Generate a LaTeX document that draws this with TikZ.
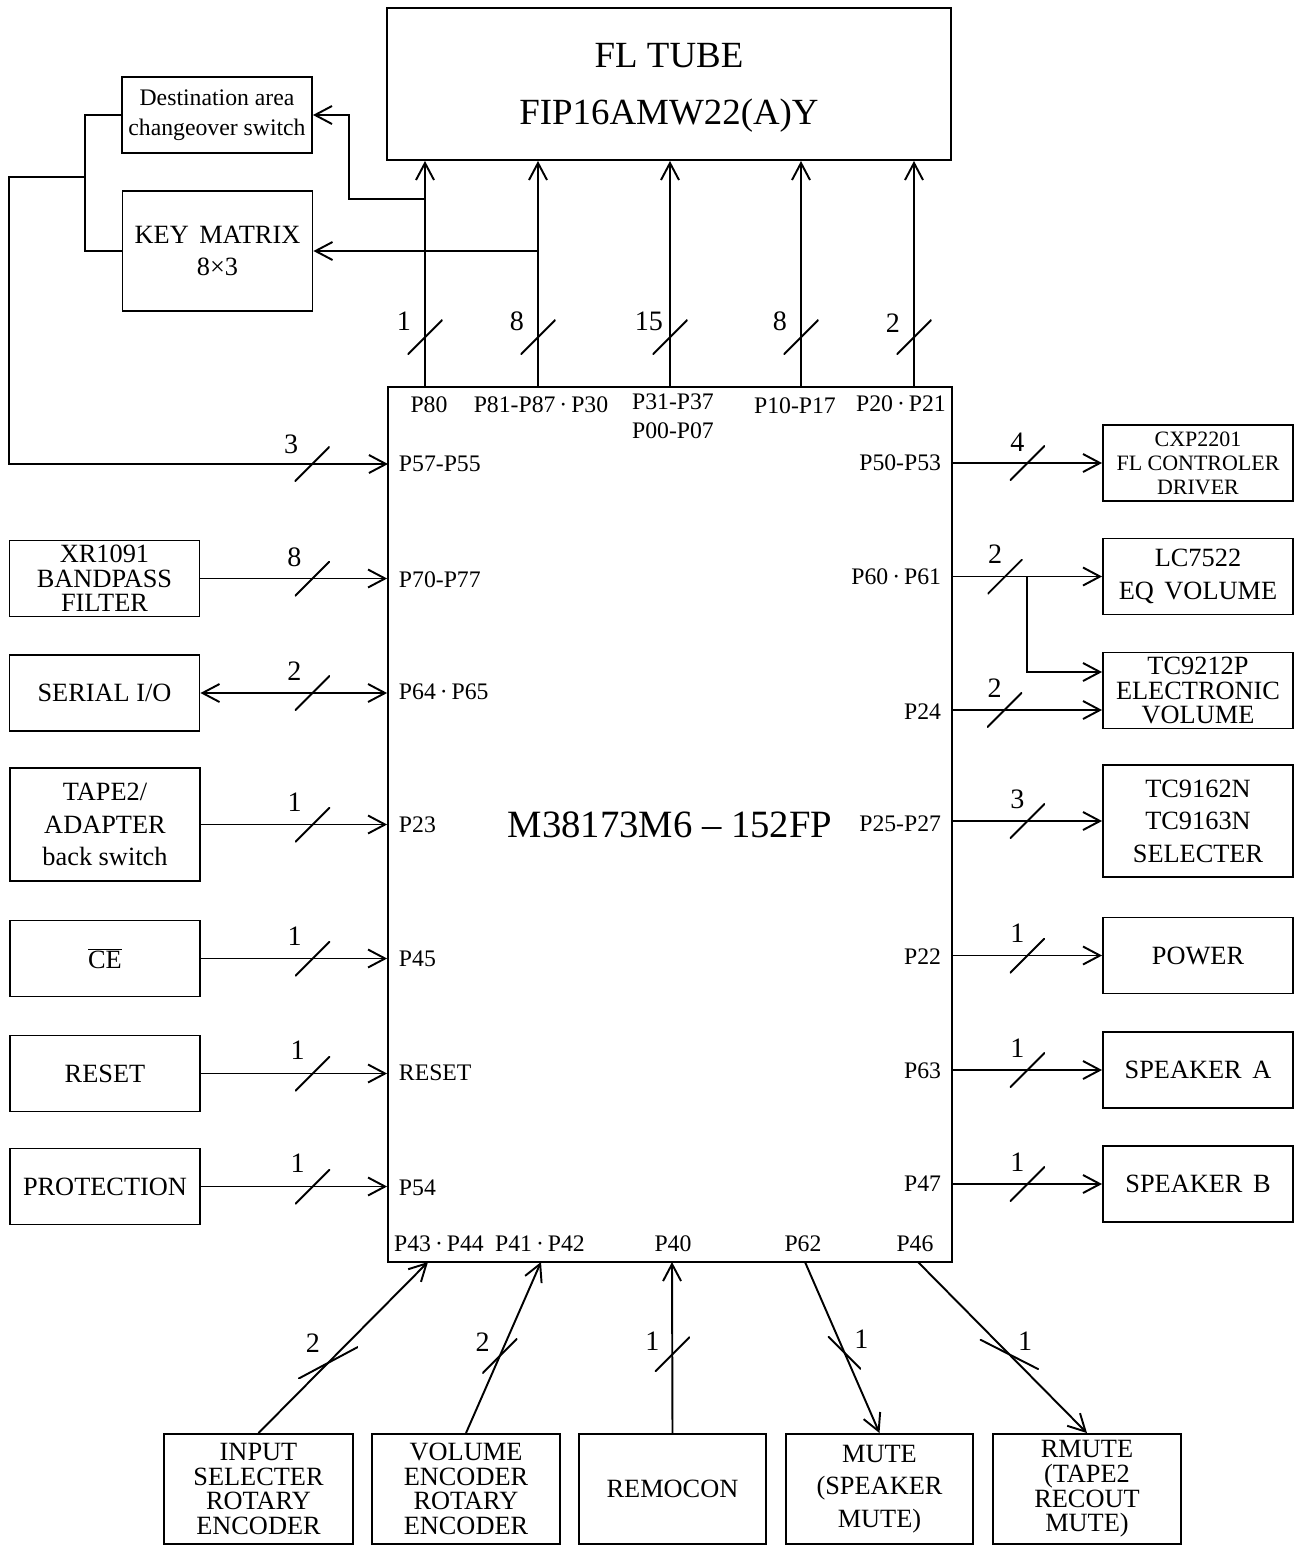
\documentclass[tikz,border=0pt]{standalone}
\usepackage{fontspec}
\setmainfont{Liberation Serif}
\usetikzlibrary{arrows.meta}

\begin{document}
\begin{tikzpicture}[
  x=0.02cm, y=-0.02cm,
  line width=1.1pt,
  box/.style={draw, align=center, inner sep=0pt, minimum width=3.8cm, minimum height=1.52cm, font=\fontsize{15}{18.5}\selectfont},
  tight/.style={box, font=\fontsize{15}{14}\selectfont},
  pin/.style={inner sep=0pt, font=\fontsize{13.5}{16.5}\selectfont},
  num/.style={inner sep=0pt, font=\fontsize{16}{16}\selectfont},
  busmark/.style={inner sep=0pt, minimum width=0.7cm, minimum height=0.7cm, path picture={\draw[-, line width=1.1pt] (path picture bounding box.south west) -- (path picture bounding box.north east);}},
  backmark/.style={inner sep=0pt, minimum width=0.7cm, minimum height=0.7cm, path picture={\draw[-, line width=1.1pt] (path picture bounding box.north west) -- (path picture bounding box.south east);}},
  arrow/.style={-{Straight Barb[length=3.4mm, width=3.6mm]}},
  twoway/.style={{Straight Barb[length=3.4mm, width=3.6mm]}-{Straight Barb[length=3.4mm, width=3.6mm]}}
]
\useasboundingbox (0,0) rectangle (1299,1546);

% controller and display
\node[draw, minimum width=11.28cm, minimum height=17.5cm, font=\fontsize{22}{24}\selectfont] (chip) at (670,824.5) {M38173M6 – 152FP};
\node[draw, align=center, minimum width=11.28cm, minimum height=3.04cm, text depth=-0.3cm, font=\fontsize{21}{32}\selectfont] (tube) at (669,84) {FL TUBE\\FIP16AMW22(A)Y};
\node[box, font=\fontsize{13.5}{17}\selectfont] (dest) at (217,115) {Destination area\\changeover switch};
\node[box, minimum height=2.4cm] (keym) at (217.5,251) {KEY\hspace{0.4em}MATRIX\\8×3};

% pin names
\node[pin] (l80) at (429,405) {P80};
\node[pin] (l81) at (541,405) {P81-P87\,·\,P30};
\node[pin, align=center] (l31) at (673,416) {P31-P37\\P00-P07};
\node[pin] (l10) at (795,406) {P10-P17};
\node[pin] (l20) at (901,404) {P20\,·\,P21};
\node[pin, anchor=west] (l57) at (398,464) {P57-P55};
\node[pin, anchor=west] (l70) at (398,580) {P70-P77};
\node[pin, anchor=west] (l64) at (398,692) {P64\,·\,P65};
\node[pin, anchor=west] (l23) at (398,825) {P23};
\node[pin, anchor=west] (l45) at (398,959) {P45};
\node[pin, anchor=west] (lrs) at (398,1073) {RESET};
\node[pin, anchor=west] (l54) at (398,1188) {P54};
\node[pin, anchor=east] (l50) at (942,463) {P50-P53};
\node[pin, anchor=east] (l60) at (942,577) {P60\,·\,P61};
\node[pin, anchor=east] (l24) at (942,712) {P24};
\node[pin, anchor=east] (l25) at (942,824) {P25-P27};
\node[pin, anchor=east] (l22) at (942,957) {P22};
\node[pin, anchor=east] (l63) at (942,1071) {P63};
\node[pin, anchor=east] (l47) at (942,1184) {P47};
\node[pin] (l43) at (439,1244) {P43\,·\,P44};
\node[pin] (l41) at (540,1244) {P41\,·\,P42};
\node[pin] (l40) at (673,1244) {P40};
\node[pin] (l62) at (803,1244) {P62};
\node[pin] (l46) at (915,1244) {P46};

% pin points
\coordinate (c80) at (425,387);
\coordinate (c81) at (538,387);
\coordinate (c31) at (670,387);
\coordinate (c10) at (801,387);
\coordinate (c20) at (914,387);
\coordinate (c57) at (388,464);
\coordinate (c24) at (952,710);
\coordinate (c43) at (428,1262);
\coordinate (c41) at (541,1262);
\coordinate (c40) at (672,1262);
\coordinate (c62) at (805,1262);
\coordinate (c46) at (918,1262);
\coordinate (tap1) at (425,199);
\coordinate (bend1) at (349,199);
\coordinate (tap2) at (538,251);
\coordinate (tap3) at (1027,576.5);
\coordinate (jn) at (85,177);
\coordinate (lft) at (9,177);

% left side
\node[tight] (xr) at (104.5,578.5) {XR1091\\BANDPASS\\FILTER};
\node[box] (ser) at (104.5,693) {SERIAL I/O};
\node[box, minimum height=2.26cm] (tape) at (105,824.5) {TAPE2/\\ADAPTER\\back switch};
\node[box] (ce) at (105,958.5) {$\overline{\mbox{CE}}$};
\node[box] (rst) at (105,1073.5) {RESET};
\node[box] (prot) at (105,1186.5) {PROTECTION};

% right side
\node[box, font=\fontsize{12.5}{13.6}\selectfont] (cxp) at (1198,463) {CXP2201\\FL CONTROLER\\DRIVER};
\node[box, font=\fontsize{15}{19}\selectfont] (lc) at (1198,576.5) {LC7522\\EQ\hspace{0.4em}VOLUME};
\node[box, font=\fontsize{15}{13.8}\selectfont] (tcv) at (1198,690.5) {TC9212P\\ELECTRONIC\\VOLUME};
\node[box, minimum height=2.24cm] (tcs) at (1198,821) {TC9162N\\TC9163N\\SELECTER};
\node[box] (pwr) at (1198,955.5) {POWER};
\node[box] (spka) at (1198,1070) {SPEAKER\hspace{0.4em}A};
\node[box] (spkb) at (1198,1184) {SPEAKER\hspace{0.4em}B};

% bottom row
\node[tight, minimum width=3.78cm, minimum height=2.2cm] (inp) at (258.5,1489) {INPUT\\SELECTER\\ROTARY\\ENCODER};
\node[tight, minimum width=3.76cm, minimum height=2.2cm] (vol) at (466,1489) {VOLUME\\ENCODER\\ROTARY\\ENCODER};
\node[box, minimum width=3.74cm, minimum height=2.2cm] (rem) at (672.5,1489) {REMOCON};
\node[box, minimum width=3.74cm, minimum height=2.2cm] (mute) at (879.5,1489) {MUTE\\(SPEAKER\\MUTE)};
\node[tight, minimum width=3.76cm, minimum height=2.2cm] (rmute) at (1087,1489) {RMUTE\\(TAPE2\\RECOUT\\MUTE)};

% to the tube
\draw[arrow] (c80) -- node[busmark, pos=.22] {} node[num, pos=.22, anchor=east, xshift=-0.26cm, yshift=0.32cm] {1} (c80 |- tube.south);
\draw[arrow] (c81) -- node[busmark, pos=.22] {} node[num, pos=.22, anchor=east, xshift=-0.26cm, yshift=0.32cm] {8} (c81 |- tube.south);
\draw[arrow] (c31) -- node[busmark, pos=.22] {} node[num, pos=.22, anchor=east, xshift=-0.12cm, yshift=0.32cm] {15} (c31 |- tube.south);
\draw[arrow] (c10) -- node[busmark, pos=.22] {} node[num, pos=.22, anchor=east, xshift=-0.26cm, yshift=0.32cm] {8} (c10 |- tube.south);
\draw[arrow] (c20) -- node[busmark, pos=.22] {} node[num, pos=.22, anchor=east, xshift=-0.26cm, yshift=0.28cm] {2} (c20 |- tube.south);
\draw[arrow] (tap1) -- (bend1) |- (dest.east);
\draw[arrow] (tap2) -- (keym.east);
\draw (dest.west) -| (jn) |- (keym.west);
\draw[arrow] (jn) -- (lft) -- (lft |- c57) -- node[busmark, pos=.8] {} node[num, pos=.8, xshift=-0.42cm, yshift=0.4cm] {3} (c57);

% inputs on the left
\draw[arrow] (xr.east) -- node[busmark, pos=.6] {} node[num, pos=.6, xshift=-0.36cm, yshift=0.42cm] {8} (xr.east -| chip.west);
\draw[twoway] (ser.east) -- node[busmark, pos=.6] {} node[num, pos=.6, xshift=-0.36cm, yshift=0.44cm] {2} (ser.east -| chip.west);
\draw[arrow] (tape.east) -- node[busmark, pos=.6] {} node[num, pos=.6, xshift=-0.36cm, yshift=0.44cm] {1} (tape.east -| chip.west);
\draw[arrow] (ce.east) -- node[busmark, pos=.6] {} node[num, pos=.6, xshift=-0.36cm, yshift=0.44cm] {1} (ce.east -| chip.west);
\draw[arrow] (rst.east) -- node[busmark, pos=.6] {} node[num, pos=.6, xshift=-0.3cm, yshift=0.46cm] {1} (rst.east -| chip.west);
\draw[arrow] (prot.east) -- node[busmark, pos=.6] {} node[num, pos=.6, xshift=-0.3cm, yshift=0.46cm] {1} (prot.east -| chip.west);

% outputs on the right
\draw[arrow] (cxp.west -| chip.east) -- node[busmark, pos=.5] {} node[num, pos=.5, xshift=-0.2cm, yshift=0.42cm] {4} (cxp.west);
\draw[arrow] (lc.west -| chip.east) -- node[busmark, pos=.35] {} node[num, pos=.35, xshift=-0.2cm, yshift=0.44cm] {2} (lc.west);
\draw[arrow] (tap3) |- ([yshift=0.37cm]tcv.west);
\draw[arrow] (c24) -- node[busmark, pos=.35] {} node[num, pos=.35, xshift=-0.2cm, yshift=0.44cm] {2} (c24 -| tcv.west);
\draw[arrow] (tcs.west -| chip.east) -- node[busmark, pos=.5] {} node[num, pos=.5, xshift=-0.2cm, yshift=0.44cm] {3} (tcs.west);
\draw[arrow] (pwr.west -| chip.east) -- node[busmark, pos=.5] {} node[num, pos=.5, xshift=-0.2cm, yshift=0.44cm] {1} (pwr.west);
\draw[arrow] (spka.west -| chip.east) -- node[busmark, pos=.5] {} node[num, pos=.5, xshift=-0.2cm, yshift=0.44cm] {1} (spka.west);
\draw[arrow] (spkb.west -| chip.east) -- node[busmark, pos=.5] {} node[num, pos=.5, xshift=-0.2cm, yshift=0.44cm] {1} (spkb.west);

% bottom links
\draw[arrow] (inp.north) -- node[busmark, minimum width=1.2cm, minimum height=0.64cm, pos=.41] {} node[num, pos=.41, xshift=-0.3cm, yshift=0.4cm] {2} (c43);
\draw[arrow] (vol.north) -- node[busmark, pos=.45] {} node[num, pos=.45, xshift=-0.34cm, yshift=0.28cm] {2} (c41);
\draw[arrow] (rem.north) -- node[busmark, pos=.46] {} node[num, pos=.46, xshift=-0.4cm, yshift=0.26cm] {1} (c40);
\draw[arrow] (c62) -- node[backmark, minimum width=0.66cm, minimum height=0.66cm, pos=.53] {} node[num, pos=.53, xshift=0.34cm, yshift=0.26cm] {1} (mute.north);
\draw[arrow] (c46) -- node[backmark, minimum width=1.18cm, minimum height=0.6cm, pos=.54] {} node[num, pos=.54, xshift=0.32cm, yshift=0.26cm] {1} (rmute.north);
\end{tikzpicture}
\end{document}
